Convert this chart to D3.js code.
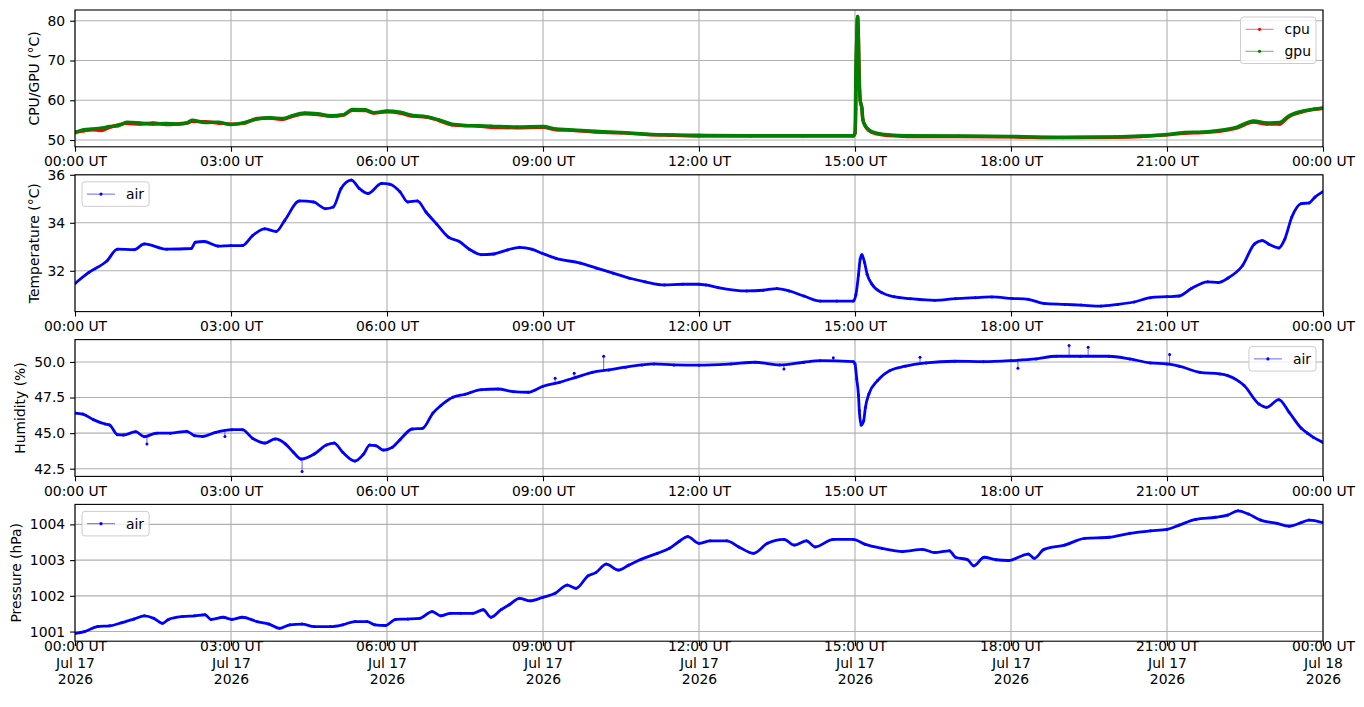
<!DOCTYPE html>
<html>
<head>
<meta charset="utf-8">
<script src="https://cdn.jsdelivr.net/npm/d3@7"></script>
<style>
  body { margin: 0; background: #fff; }
  text { font-family: "DejaVu Sans", sans-serif; }
</style>
</head>
<body>
<script>
// ---- data (time "H:MM" UT on 2026-07-17, value) ----
var cpuTimes = ["0:00","0:10","0:20","0:30","0:40","0:50","1:00","1:15","1:30","1:45","2:00","2:10","2:15","2:30","2:45",
  "3:00","3:15","3:30","3:45","4:00","4:10","4:25","4:40","4:55","5:10","5:20","5:35","5:45","6:00","6:15","6:30","6:45",
  "7:00","7:15","7:30","7:45","8:00","8:30","9:00","9:15","9:30","10:00","10:30","11:00","11:30","12:00","13:00","14:00",
  "14:58","15:00","15:01","15:02","15:03","15:04","15:05","15:06","15:08","15:09","15:12","15:16","15:24","15:40","16:00",
  "17:00","18:00","19:00","20:00","20:30","21:00","21:20","21:40","22:00","22:20","22:40","22:55","23:10","23:20","23:35",
  "23:50","24:00"];
var cpuValues = [52.0,52.3,52.6,52.4,53.2,53.8,54.2,54.0,54.3,53.9,54.1,54.3,54.7,54.6,54.3,
  54.0,54.2,55.4,55.5,55.2,55.9,56.6,56.4,56.0,56.3,57.5,57.4,56.8,57.1,56.8,56.0,55.8,
  54.9,53.8,53.6,53.5,53.2,53.1,53.2,52.6,52.5,52.0,51.8,51.4,51.2,51.0,51.0,51.0,
  51.0,51.7,57.8,75.5,81.0,75.3,64.5,60.1,58.0,55.1,53.4,52.4,51.6,51.1,50.9,
  50.9,50.8,50.6,50.7,50.9,51.3,51.7,51.9,52.2,53.0,54.5,54.0,54.0,55.8,57.0,
  57.7,58.0];
var gpuValues = [51.8,52.6,52.8,53.0,53.4,53.6,54.5,54.3,54.0,54.2,54.0,54.4,55.0,54.4,54.5,
  53.9,54.4,55.3,55.6,55.4,56.1,56.8,56.6,56.1,56.4,57.7,57.6,56.9,57.3,57.0,56.2,55.9,
  55.1,54.0,53.7,53.6,53.5,53.3,53.4,52.8,52.6,52.2,51.9,51.5,51.3,51.2,51.1,51.1,
  51.1,51.8,67.8,75.8,81.1,75.1,64.3,60.0,57.8,55.3,53.6,52.6,51.8,51.3,51.1,
  51.0,50.9,50.7,50.8,51.0,51.4,51.9,52.0,52.4,53.2,54.8,54.3,54.4,56.0,57.2,
  57.8,58.1];

var airTemp = [["0:00",31.47],["0:16",31.93],["0:37",32.42],["0:49",32.9],["1:08",32.88],["1:20",33.12],["1:46",32.9],
  ["2:14",32.93],["2:19",33.19],["2:29",33.22],["2:45",33.03],["3:00",33.05],["3:13",33.05],["3:25",33.47],["3:39",33.75],
  ["3:52",33.64],["4:02",34.1],["4:19",34.91],["4:35",34.87],["4:49",34.59],["4:58",34.66],["5:07",35.43],["5:19",35.78],
  ["5:28",35.43],["5:38",35.22],["5:54",35.64],["6:03",35.61],["6:15",35.29],["6:24",34.87],["6:35",34.91],["6:45",34.45],
  ["6:57",33.96],["7:11",33.4],["7:23",33.23],["7:35",32.9],["7:49",32.67],["8:03",32.7],["8:19",32.87],["8:33",32.98],
  ["8:47",32.9],["8:59",32.73],["9:15",32.52],["9:43",32.32],["10:02",32.11],["10:21",31.9],["10:40",31.69],["10:58",31.54],
  ["11:20",31.41],["11:41",31.44],["12:00",31.44],["12:08",31.41],["12:22",31.30],["12:55",31.16],["13:14",31.19],
  ["13:30",31.26],["13:44",31.16],["14:01",30.95],["14:20",30.74],["14:39",30.74],["14:58",30.74],["15:01",31.0],
  ["15:04",31.83],["15:06",32.49],["15:08",32.67],["15:11",32.35],["15:14",31.86],["15:19",31.47],["15:31",31.09],
  ["15:45",30.92],["16:04",30.84],["16:32",30.77],["16:56",30.84],["17:19",30.88],["17:38",30.91],["18:01",30.85],
  ["18:20",30.81],["18:38",30.64],["19:02",30.6],["19:21",30.57],["19:44",30.53],["20:03",30.6],["20:22",30.7],
  ["20:41",30.88],["21:00",30.92],["21:14",30.95],["21:28",31.26],["21:47",31.54],["21:59",31.51],["22:10",31.69],
  ["22:27",32.21],["22:41",33.12],["22:50",33.26],["22:57",33.12],["23:09",32.95],["23:16",33.33],["23:24",34.24],
  ["23:35",34.8],["23:44",34.83],["23:51",35.08],["24:00",35.3]];

var airHumidity = [["0:00",46.41],["0:09",46.34],["0:21",45.95],["0:35",45.64],["0:40",45.57],["0:49",44.89],["0:56",44.87],
  ["1:10",45.1],["1:20",44.75],["1:34",45.0],["1:50",45.0],["2:09",45.13],["2:18",44.82],["2:27",44.77],["2:42",45.05],
  ["3:01",45.24],["3:13",45.24],["3:25",44.63],["3:39",44.3],["3:51",44.59],["4:03",44.23],["4:12",43.65],["4:21",43.18],
  ["4:36",43.53],["4:50",44.16],["4:59",44.3],["5:09",43.65],["5:23",43.04],["5:33",43.53],["5:40",44.16],["5:47",44.12],
  ["5:56",43.81],["6:06",44.0],["6:15",44.54],["6:29",45.29],["6:41",45.34],["6:53",46.41],["7:02",46.93],["7:16",47.52],
  ["7:30",47.73],["7:49",48.05],["8:08",48.1],["8:26",47.91],["8:43",47.87],["9:00",48.29],["9:19",48.57],["9:38",48.92],
  ["9:57",49.27],["10:16",49.44],["10:35",49.63],["10:54",49.79],["11:08",49.86],["11:31",49.79],["12:00",49.77],
  ["12:37",49.86],["13:05",49.98],["13:33",49.79],["14:01",49.98],["14:20",50.09],["14:58",50.02],["15:00",49.86],
  ["15:02",48.8],["15:04",47.68],["15:05",46.58],["15:07",45.57],["15:10",45.87],["15:12",46.8],["15:16",47.75],
  ["15:26",48.69],["15:40",49.39],["15:58",49.7],["16:22",49.93],["16:55",50.05],["17:28",50.02],["18:00",50.09],
  ["18:29",50.21],["18:52",50.4],["19:20",50.4],["19:53",50.4],["20:17",50.21],["20:41",49.93],["21:00",49.86],
  ["21:14",49.7],["21:38",49.27],["22:01",49.16],["22:10",49.04],["22:29",48.34],["22:46",47.05],["22:55",46.81],
  ["23:09",47.35],["23:21",46.46],["23:35",45.34],["23:42",45.0],["23:49",44.7],["24:00",44.35]];
// single odd samples sticking out of the humidity curve: time, curve level there, sample value
var airHumiditySpikes = [["1:23",44.8,44.23],["2:53",45.15,44.77],["4:22",43.2,42.31],["9:14",48.5,48.85],
  ["9:36",48.9,49.2],["10:10",49.4,50.4],["13:38",49.8,49.5],["14:35",50.05,50.3],["16:15",49.9,50.33],
  ["18:08",50.1,49.55],["19:07",50.4,51.15],["19:29",50.4,51.03],["21:03",49.85,50.52]];

var airPressure = [["0:00",1000.95],["0:11",1001.0],["0:26",1001.14],["0:40",1001.16],["0:54",1001.25],["1:08",1001.35],
  ["1:20",1001.44],["1:31",1001.37],["1:41",1001.23],["1:48",1001.34],["2:04",1001.42],["2:18",1001.44],["2:30",1001.47],
  ["2:37",1001.34],["2:51",1001.4],["3:01",1001.34],["3:13",1001.4],["3:30",1001.28],["3:44",1001.21],["3:56",1001.09],
  ["4:08",1001.19],["4:22",1001.21],["4:36",1001.14],["4:55",1001.14],["5:09",1001.19],["5:23",1001.28],["5:37",1001.28],
  ["5:46",1001.19],["5:58",1001.17],["6:10",1001.34],["6:24",1001.35],["6:38",1001.37],["6:52",1001.56],["7:02",1001.44],
  ["7:13",1001.51],["7:25",1001.51],["7:39",1001.51],["7:51",1001.61],["8:00",1001.4],["8:12",1001.62],["8:21",1001.75],
  ["8:33",1001.93],["8:45",1001.86],["9:00",1001.96],["9:14",1002.07],["9:28",1002.3],["9:38",1002.21],["9:52",1002.56],
  ["10:01",1002.65],["10:13",1002.89],["10:27",1002.72],["10:39",1002.86],["10:53",1003.02],["11:12",1003.19],
  ["11:26",1003.33],["11:37",1003.52],["11:47",1003.66],["12:00",1003.47],["12:13",1003.54],["12:32",1003.54],
  ["12:46",1003.37],["13:03",1003.19],["13:19",1003.47],["13:38",1003.58],["13:50",1003.42],["14:04",1003.54],
  ["14:14",1003.37],["14:35",1003.58],["14:58",1003.58],["15:12",1003.44],["15:31",1003.33],["15:55",1003.24],
  ["16:18",1003.3],["16:32",1003.21],["16:49",1003.26],["16:56",1003.08],["17:10",1003.01],["17:17",1002.84],
  ["17:29",1003.08],["17:43",1003.01],["17:57",1002.99],["18:20",1003.17],["18:27",1003.05],["18:38",1003.3],
  ["19:02",1003.42],["19:25",1003.61],["19:53",1003.64],["20:17",1003.75],["20:41",1003.82],["21:00",1003.86],
  ["21:14",1003.98],["21:33",1004.14],["21:56",1004.2],["22:10",1004.26],["22:22",1004.38],["22:34",1004.29],
  ["22:48",1004.12],["23:07",1004.03],["23:21",1003.95],["23:35",1004.05],["23:44",1004.12],["24:00",1004.05]];

// axis ranges and tick labels
var yLabels = ["CPU/GPU (\u00b0C)", "Temperature (\u00b0C)", "Humidity (%)", "Pressure (hPa)"];
var yDomains = [[48.3, 82.7], [30.3, 36.0], [41.96, 51.57], [1000.73, 1004.56]];
var yTickValues = [[50, 60, 70, 80], [32, 34, 36], [42.5, 45, 47.5, 50], [1001, 1002, 1003, 1004]];
var yTickFormats = [d3.format("d"), d3.format("d"), d3.format(".1f"), d3.format("d")];

var DAY0 = Date.UTC(2026, 6, 17);
function toDate(s) {
	var p = s.split(":").map(Number);
	return new Date(DAY0 + (p[0] * 60 + p[1]) * 60000);
}
function pairs(times, values) {
	return times.map(function(t, i) { return { t: toDate(t), v: values[i] }; });
}
function fromPairs(arr) {
	return arr.map(function(d) { return { t: toDate(d[0]), v: d[1] }; });
}

var RED = "#ff0000", GREEN = "#008000", BLUE = "#0000ff";

var humiditySpikes = airHumiditySpikes.map(function(d) { return { t: toDate(d[0]), base: d[1], v: d[2] }; });

var panels = [
	{ series: [{ name: "cpu", color: RED, band: pairs(cpuTimes, cpuValues) },
	           { name: "gpu", color: GREEN, band: pairs(cpuTimes, gpuValues) }],
	  legend: "right" },
	{ series: [{ name: "air", color: BLUE, band: fromPairs(airTemp) }], legend: "left" },
	{ series: [{ name: "air", color: BLUE, band: fromPairs(airHumidity), spikes: humiditySpikes }], legend: "right" },
	{ series: [{ name: "air", color: BLUE, band: fromPairs(airPressure) }], legend: "left" }
];

// ---- layout ----
var width = 1364, height = 707;
var left = 75, right = 1323;
var top0 = 10, step = 164.8, panelH = 136.8;
var fs = 13.9, tickLen = 4.9, tickPad = 4.9;

var svg = d3.select("body").append("svg")
	.attr("width", width)
	.attr("height", height);

var x = d3.scaleUtc()
	.domain([new Date(DAY0), new Date(DAY0 + 864e5)])
	.range([left, right]);
var xTicks = x.ticks(d3.utcHour.every(3));
var fmtTime = d3.utcFormat("%H:%M UT"),
	fmtDay = d3.utcFormat("%b %d"),
	fmtYear = d3.utcFormat("%Y");

panels.forEach(function(p, i) {
	var top = top0 + i * step, bottom = top + panelH;
	var y = d3.scaleLinear().domain(yDomains[i]).range([bottom, top]);
	var g = svg.append("g");

	g.append("clipPath").attr("id", "clip" + i)
		.append("rect").attr("x", left).attr("y", top).attr("width", right - left).attr("height", panelH);

	// grid
	g.append("g").selectAll("line").data(xTicks).enter().append("line")
		.attr("x1", function(d) { return x(d); }).attr("x2", function(d) { return x(d); })
		.attr("y1", top).attr("y2", bottom)
		.attr("stroke", "#b0b0b0").attr("stroke-width", 1.1);
	g.append("g").selectAll("line").data(yTickValues[i]).enter().append("line")
		.attr("x1", left).attr("x2", right)
		.attr("y1", function(d) { return y(d); }).attr("y2", function(d) { return y(d); })
		.attr("stroke", "#b0b0b0").attr("stroke-width", 1.1);

	// data
	var line = d3.line()
		.x(function(d) { return x(d.t); })
		.y(function(d) { return y(d.v); })
		.curve(d3.curveMonotoneX);
	var data = g.append("g").attr("clip-path", "url(#clip" + i + ")");
	p.series.forEach(function(s) {
		data.append("path").attr("d", line(s.band))
			.attr("fill", "none").attr("stroke", s.color)
			.attr("stroke-width", i === 0 ? 3.4 : 2.8)
			.attr("stroke-linejoin", "round");
		data.append("g").selectAll("circle").data(s.band).enter().append("circle")
			.attr("cx", function(d) { return x(d.t); })
			.attr("cy", function(d) { return y(d.v); })
			.attr("r", 1.5)
			.attr("fill", s.color);
		if (s.spikes) {
			data.append("g").selectAll("line").data(s.spikes).enter().append("line")
				.attr("x1", function(d) { return x(d.t); }).attr("x2", function(d) { return x(d.t); })
				.attr("y1", function(d) { return y(d.base); }).attr("y2", function(d) { return y(d.v); })
				.attr("stroke", s.color).attr("stroke-opacity", 0.7).attr("stroke-width", 0.9);
			data.append("g").selectAll("circle").data(s.spikes).enter().append("circle")
				.attr("cx", function(d) { return x(d.t); })
				.attr("cy", function(d) { return y(d.v); })
				.attr("r", 1.5)
				.attr("fill", s.color);
		}
	});

	// spines
	g.append("rect")
		.attr("x", left).attr("y", top).attr("width", right - left).attr("height", panelH)
		.attr("fill", "none").attr("stroke", "#000").attr("stroke-width", 1.1);

	// x axis
	var xa = g.append("g").attr("transform", "translate(0," + bottom + ")")
		.call(d3.axisBottom(x).tickValues(xTicks).tickSize(tickLen).tickPadding(tickPad).tickFormat(fmtTime));
	// y axis
	var ya = g.append("g").attr("transform", "translate(" + left + ",0)")
		.call(d3.axisLeft(y).tickValues(yTickValues[i]).tickSize(tickLen).tickPadding(tickPad).tickFormat(yTickFormats[i]));
	[xa, ya].forEach(function(a) {
		a.select(".domain").remove();
		a.attr("font-size", fs).attr("font-family", "DejaVu Sans, sans-serif");
		a.selectAll(".tick line").attr("stroke", "#000").attr("stroke-width", 1.1);
		a.selectAll(".tick text").attr("fill", "#000");
	});
	if (i === panels.length - 1) {
		xa.selectAll(".tick text").each(function(d) {
			var t = d3.select(this).text("");
			[fmtTime(d), fmtDay(d), fmtYear(d)].forEach(function(s, k) {
				t.append("tspan").attr("x", 0).attr("dy", k === 0 ? 0 : "1.2em").text(s);
			});
		});
	}

	// y label
	var bb = ya.node().getBBox();
	var lx = left + bb.x - 5.6 - 3.3;
	g.append("text")
		.attr("transform", "translate(" + lx + "," + (top + panelH / 2) + ") rotate(-90)")
		.attr("text-anchor", "middle")
		.attr("font-size", fs)
		.attr("fill", "#000")
		.text(yLabels[i]);

	// legend
	var padX = 5, handle = 28, gap = 11, rowH = 22, padY = 5.6;
	var lg = g.append("g");
	var frame = lg.append("rect");
	var maxW = 0;
	p.series.forEach(function(s, k) {
		var cy = padY + 6.7 + k * rowH;
		lg.append("line").attr("x1", padX).attr("x2", padX + handle).attr("y1", cy).attr("y2", cy)
			.attr("stroke", s.color).attr("stroke-opacity", 0.6).attr("stroke-width", 1);
		lg.append("circle").attr("cx", padX + handle / 2).attr("cy", cy).attr("r", 1.6).attr("fill", s.color);
		var t = lg.append("text").attr("x", padX + handle + gap).attr("y", cy).attr("dy", "0.35em")
			.attr("font-size", fs).attr("fill", "#000").text(s.name);
		maxW = Math.max(maxW, t.node().getComputedTextLength());
	});
	var fw = padX + handle + gap + maxW + padX;
	var fh = padY * 2 + 13.3 + (p.series.length - 1) * rowH;
	frame.attr("width", fw).attr("height", fh).attr("rx", 3)
		.attr("fill", "#fff").attr("fill-opacity", 0.8)
		.attr("stroke", "#cccccc").attr("stroke-width", 1);
	var lxPos = p.legend === "right" ? right - 7 - fw : left + 7;
	lg.attr("transform", "translate(" + lxPos + "," + (top + 7) + ")");
});
</script>
</body>
</html>
